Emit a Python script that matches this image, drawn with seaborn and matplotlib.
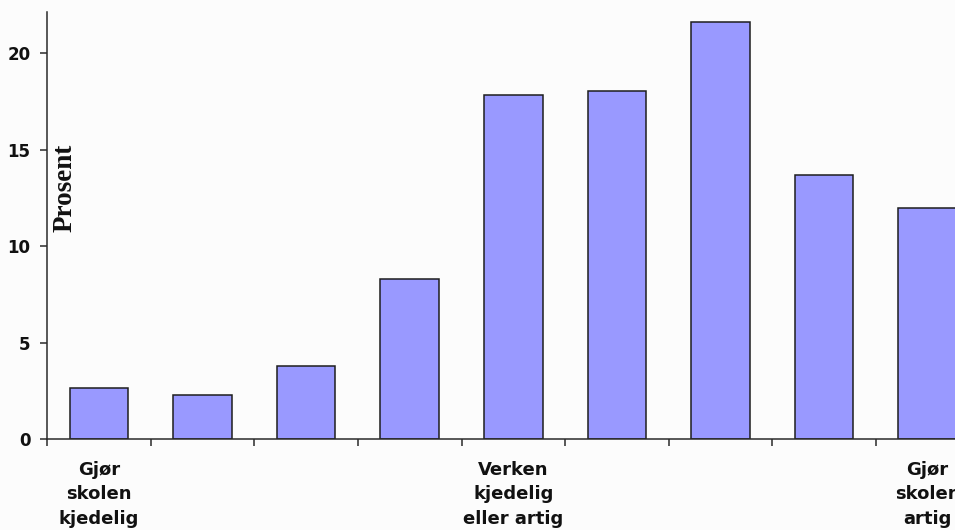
import matplotlib
matplotlib.use("Agg")
import matplotlib.pyplot as plt
import seaborn as sns
import pandas as pd
import numpy as np

# Scale steps 1-9, from "boring" to "fun"
steps = ["1", "2", "3", "4", "5", "6", "7", "8", "9"]
percent = [2.66, 2.31, 3.81, 8.32, 17.85, 18.02, 21.59, 13.67, 11.99]
step_labels = ["Gjør\nskolen\nkjedelig", "", "", "",
               "Verken\nkjedelig\neller artig", "", "", "",
               "Gjør\nskolen\nartig"]
y_ticks = [0, 5, 10, 15, 20]

sns.set_theme(style="white")
plt.rcParams["font.family"] = ["DejaVu Sans"]

bg = "#fcfcfc"
fig = plt.figure(figsize=(9.55, 5.3), dpi=100, facecolor=bg)
# the category axis runs on past the right edge of the figure
ax = fig.add_axes([0.0495, 0.1708, 0.976, 0.807], facecolor=bg)

df = pd.DataFrame({"step": steps, "percent": percent})
sns.barplot(data=df, x="step", y="percent", color="#9999ff", saturation=1,
            width=0.565, edgecolor="#1e1e1e", linewidth=1.1, ax=ax)

ax.set_xlim(-0.5, 8.5)
ax.set_ylim(0, 22.14)

for s in ["top", "right"]:
    ax.spines[s].set_visible(False)
for s in ["left", "bottom"]:
    ax.spines[s].set_color("#2a2a2a")
    ax.spines[s].set_linewidth(1.1)

# Major ticks between categories, labels on minor ticks at the centres
ax.set_xticks(np.arange(-0.5, 9.0, 1.0))
ax.set_xticklabels([])
ax.set_xticks(np.arange(len(steps)), minor=True)
ax.set_xticklabels(step_labels, minor=True, fontsize=13, fontweight="bold",
                   linespacing=1.45, color="#111111")
ax.tick_params(axis="x", which="major", direction="out", length=5,
               width=1.1, color="#2a2a2a", bottom=True)
ax.tick_params(axis="x", which="minor", length=0, pad=15.5)

ax.set_yticks(y_ticks)
ax.set_yticklabels([str(t) for t in y_ticks], fontsize=12,
                   fontweight="bold", color="#111111")
ax.tick_params(axis="y", direction="out", length=5, width=1.1,
               color="#2a2a2a", left=True, pad=7)

ax.set_xlabel("")
ax.set_ylabel("")
ax.text(0.0193, 0.589, "Prosent", transform=ax.transAxes, rotation=90,
        ha="center", va="center", fontsize=19.5, fontweight="bold",
        family=["Liberation Serif", "DejaVu Serif"], color="#111111")

fig.savefig("out.png", dpi=100, facecolor=bg)
